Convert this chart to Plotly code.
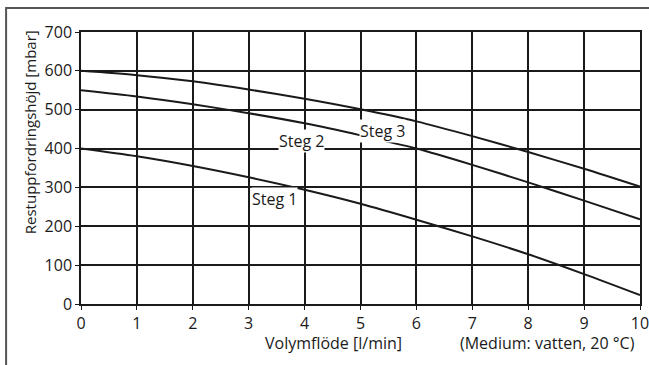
import plotly.graph_objects as go

flow = [0, 1, 2, 3, 4, 5, 6, 7, 8, 9, 10]
steg1 = [400, 380, 355, 326, 294, 258, 217, 174, 128, 77, 23]
steg2 = [550, 534, 514, 491, 465, 434, 400, 358, 313, 266, 218]
steg3 = [600, 589, 573, 552, 528, 501, 470, 432, 391, 348, 302]

labels = ["Steg 1", "Steg 2", "Steg 3"]
label_x = [3.47, 3.94, 5.40]
label_y = [270, 419, 445]

x_ticks = list(range(0, 11))
y_ticks = list(range(0, 701, 100))

FONT = "Open Sans"
INK = "#1a1a1a"

fig = go.Figure()
for ys in (steg1, steg2, steg3):
    fig.add_trace(go.Scatter(x=flow, y=ys, mode="lines",
                             line=dict(color=INK, width=2, shape="spline", smoothing=0.8),
                             showlegend=False, hoverinfo="skip"))

for t, lx, ly in zip(labels, label_x, label_y):
    fig.add_annotation(x=lx, y=ly, text=t, showarrow=False, bgcolor="white",
                       font=dict(family=FONT, size=16, color=INK), borderpad=0)

fig.add_annotation(xref="paper", yref="paper", x=0.451, y=-0.143, text="Volymflöde [l/min]",
                   showarrow=False, xanchor="center", yanchor="middle",
                   font=dict(family=FONT, size=16, color=INK))
fig.add_annotation(xref="paper", yref="paper", x=0.995, y=-0.143, xanchor="right",
                   text="(Medium: vatten, 20 °C)", showarrow=False, yanchor="middle",
                   font=dict(family=FONT, size=16, color=INK))
fig.add_annotation(xref="paper", yref="paper", x=-0.091, y=0.632, textangle=-90,
                   text="Restuppfordringshöjd [mbar]", showarrow=False,
                   xanchor="center", yanchor="middle",
                   font=dict(family=FONT, size=15, color=INK))

fig.add_shape(type="rect", xref="paper", yref="paper", x0=-0.134, y0=-0.4, x1=1.2, y1=1.088,
              line=dict(color="#555", width=2), layer="below")

axis_common = dict(showgrid=True, gridcolor=INK, gridwidth=1.5, showline=True, linecolor=INK,
                   linewidth=1.5, mirror=True, ticks="outside", ticklen=4, tickcolor=INK,
                   tickfont=dict(family=FONT, size=16, color=INK), zeroline=False,
                   automargin=False, ticklabeloverflow="allow")

fig.update_xaxes(range=[0, 10], tickvals=x_ticks, **axis_common)
fig.update_yaxes(range=[0, 700], tickvals=y_ticks, **axis_common)

fig.update_layout(width=649, height=365, margin=dict(l=81, r=9, t=32, b=61),
                  plot_bgcolor="white", paper_bgcolor="white")

fig.write_html("out.html", config={"displayModeBar": False},
               post_script="document.body.style.margin='0';document.body.style.overflow='hidden';")
